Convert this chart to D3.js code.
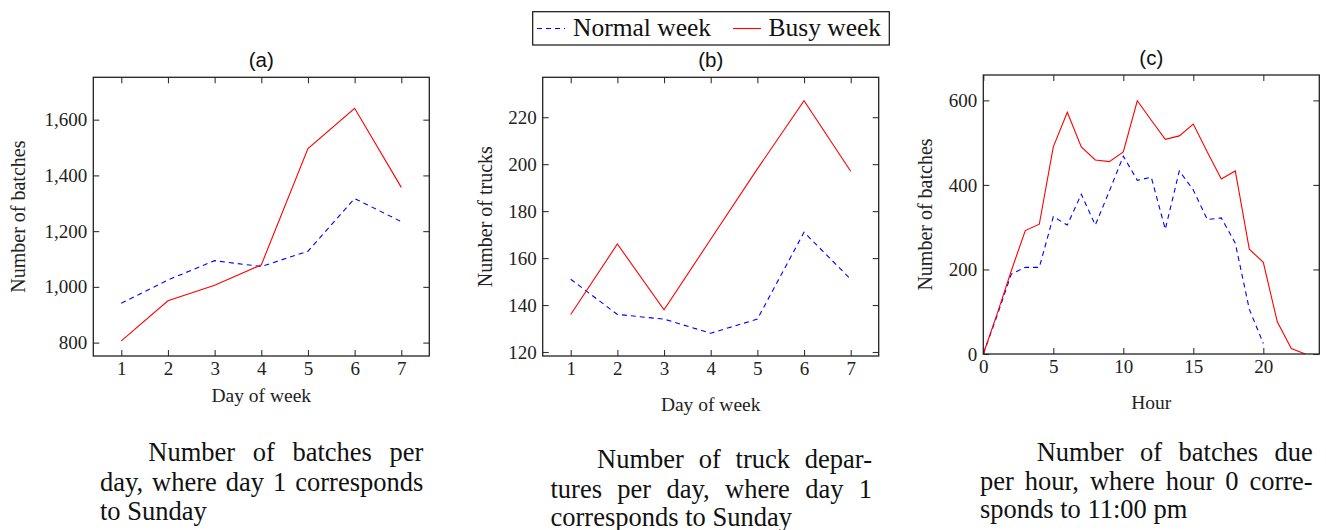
<!DOCTYPE html>
<html>
<head lang="en">
    <meta charset="UTF-8">
    <title>Batches and trucks</title>
    <script type="text/javascript" src="https://cdn.jsdelivr.net/npm/d3@7"></script>
    <style>
        body { margin: 0; background: #fff; }
    </style>
</head>
<body>
<script>
    // day-of-week panels
    var days = [1, 2, 3, 4, 5, 6, 7];
    var batchesNormal = [941, 1025, 1094, 1073, 1128, 1317, 1234];
    var batchesBusy = [806, 950, 1006, 1079, 1496, 1641, 1357];
    var trucksNormal = [151, 136, 134, 128, 134, 171, 151];
    var trucksBusy = [136, 166, 138, 168, 198, 227, 197];

    // hourly panel, index = hour
    var hourlyNormal = [0, 92, 189, 205, 205, 325, 305, 378, 305, 385, 468, 411, 418, 295, 433, 388, 318, 322, 262, 106, 25];
    var hourlyBusy = [0, 96, 197, 292, 307, 490, 572, 490, 459, 455, 478, 599, 553, 508, 516, 544, 478, 414, 433, 248, 217, 76, 13, 0];

    var dayTicks = [1, 2, 3, 4, 5, 6, 7];
    var batchTicks = [800, 1000, 1200, 1400, 1600];
    var truckTicks = [120, 140, 160, 180, 200, 220];
    var hourTicks = [0, 5, 10, 15, 20];
    var hourlyTicks = [0, 200, 400, 600];

    var seriesNames = ["Normal week", "Busy week"];
    var blue = "#0000ff", red = "#ff0000";
    var serif = "'Liberation Serif', 'Times New Roman', serif";
    var sans = "'Liberation Sans', Arial, sans-serif";

    var w = 1326, h = 530;
    var svg = d3.select("body").append("svg").attr("width", w).attr("height", h);

    var panels = [
        {title: "(a)", box: [93.3, 77.3, 429.3, 356], xDom: [0.4, 7.6], yDom: [752, 1752],
            xs: days, normal: batchesNormal, busy: batchesBusy, xTicks: dayTicks, yTicks: batchTicks,
            yFmt: d3.format(","), xLabel: "Day of week", xLabelY: 402, yLabel: "Number of batches", yLabelX: 25,
            caption: [["Number", "of", "batches", "per"], ["day,", "where", "day", "1", "corresponds"], ["to", "Sunday"]],
            capX: [100, 423.3], capIndent: 48.3, capY: [461, 491, 519.5]},
        {title: "(b)", box: [542.7, 77.3, 878.7, 356], xDom: [0.4, 7.6], yDom: [118.3, 237],
            xs: days, normal: trucksNormal, busy: trucksBusy, xTicks: dayTicks, yTicks: truckTicks,
            yFmt: d3.format("d"), xLabel: "Day of week", xLabelY: 411, yLabel: "Number of trucks", yLabelX: 491.5,
            caption: [["Number", "of", "truck", "depar-"], ["tures", "per", "day,", "where", "day", "1"], ["corresponds", "to", "Sunday"]],
            capX: [550.5, 872], capIndent: 46.5, capY: [468, 497.5, 525.5]},
        {title: "(c)", box: [983.3, 75, 1319.3, 354], xDom: [0, 24], yDom: [0, 660],
            xs: null, normal: hourlyNormal, busy: hourlyBusy, xTicks: hourTicks, yTicks: hourlyTicks,
            yFmt: d3.format("d"), xLabel: "Hour", xLabelY: 409, yLabel: "Number of batches", yLabelX: 931.5,
            caption: [["Number", "of", "batches", "due"], ["per", "hour,", "where", "hour", "0", "corre-"], ["sponds", "to", "11:00", "pm"]],
            capX: [980, 1312.7], capIndent: 56.7, capY: [460.5, 490, 518]}
    ];

    panels.forEach(function (p) {
        var x0 = p.box[0], y0 = p.box[1], x1 = p.box[2], y1 = p.box[3];
        var x = d3.scaleLinear().domain(p.xDom).range([x0, x1]);
        var y = d3.scaleLinear().domain(p.yDom).range([y1, y0]);
        var g = svg.append("g");

        // mirrored inward ticks on all four sides
        var axes = [
            {ax: d3.axisBottom(x).tickValues(p.xTicks).tickSize(-6).tickPadding(5.8), t: "translate(0," + y1 + ")"},
            {ax: d3.axisTop(x).tickValues(p.xTicks).tickSize(-6).tickFormat(""), t: "translate(0," + y0 + ")"},
            {ax: d3.axisLeft(y).tickValues(p.yTicks).tickSize(-6).tickPadding(6).tickFormat(p.yFmt), t: "translate(" + x0 + ",0)"},
            {ax: d3.axisRight(y).tickValues(p.yTicks).tickSize(-6).tickFormat(""), t: "translate(" + x1 + ",0)"}
        ];
        axes.forEach(function (a) {
            var ag = g.append("g").attr("transform", a.t).call(a.ax);
            ag.select(".domain").remove();
            ag.selectAll("line").attr("stroke", "#333").attr("stroke-width", 1.1);
            ag.selectAll("text").attr("font-family", serif).attr("font-size", 19).attr("fill", "#222");
        });

        var line = d3.line()
            .x(function (d, i) { return x(p.xs ? p.xs[i] : i); })
            .y(function (d) { return y(d); });

        g.append("path").attr("d", line(p.normal)).attr("fill", "none")
            .attr("stroke", blue).attr("stroke-width", 1.1).attr("stroke-dasharray", "5,4");
        g.append("path").attr("d", line(p.busy)).attr("fill", "none")
            .attr("stroke", red).attr("stroke-width", 1.1);

        g.append("rect").attr("x", x0).attr("y", y0).attr("width", x1 - x0).attr("height", y1 - y0)
            .attr("fill", "none").attr("stroke", "#222").attr("stroke-width", 1.3);

        g.append("text").attr("x", (x0 + x1) / 2).attr("y", y0 - 10.5).attr("text-anchor", "middle")
            .attr("font-family", sans).attr("font-size", 20.5).attr("fill", "#111").text(p.title);

        g.append("text").attr("x", (x0 + x1) / 2).attr("y", p.xLabelY).attr("text-anchor", "middle")
            .attr("font-family", serif).attr("font-size", 19.5).attr("fill", "#222").text(p.xLabel);

        g.append("text").attr("transform", "translate(" + p.yLabelX + "," + ((y0 + y1) / 2) + ") rotate(-90)")
            .attr("text-anchor", "middle").attr("font-family", serif).attr("font-size", 20)
            .attr("fill", "#222").text(p.yLabel);

        // justified caption below the panel
        var cg = g.append("g").attr("font-family", serif).attr("font-size", 26.5).attr("fill", "#111");
        p.caption.forEach(function (words, li) {
            var left = p.capX[0] + (li === 0 ? p.capIndent : 0);
            var last = li === p.caption.length - 1;
            if (last) {
                cg.append("text").attr("x", left).attr("y", p.capY[li]).text(words.join(" "));
                return;
            }
            var nodes = words.map(function (wd) {
                return cg.append("text").attr("y", p.capY[li]).text(wd);
            });
            var widths = nodes.map(function (n) { return n.node().getComputedTextLength(); });
            var gap = (p.capX[1] - left - d3.sum(widths)) / (words.length - 1);
            var cx = left;
            nodes.forEach(function (n, k) {
                n.attr("x", cx);
                cx += widths[k] + gap;
            });
        });
    });

    // legend
    var lg = svg.append("g");
    lg.append("rect").attr("x", 532.7).attr("y", 11.7).attr("width", 356.6).attr("height", 33.3)
        .attr("fill", "#fff").attr("stroke", "#111").attr("stroke-width", 1.2);
    var legendItems = [
        {name: seriesNames[0], color: blue, dash: "5,4", lx: 537, tx: 573},
        {name: seriesNames[1], color: red, dash: null, lx: 733, tx: 768.5}
    ];
    legendItems.forEach(function (d) {
        lg.append("line").attr("x1", d.lx).attr("x2", d.lx + 28).attr("y1", 28.5).attr("y2", 28.5)
            .attr("stroke", d.color).attr("stroke-width", 1.1).attr("stroke-dasharray", d.dash);
        lg.append("text").attr("x", d.tx).attr("y", 36.3).attr("font-family", serif)
            .attr("font-size", 25.5).attr("fill", "#111").text(d.name);
    });
</script>
</body>
</html>
